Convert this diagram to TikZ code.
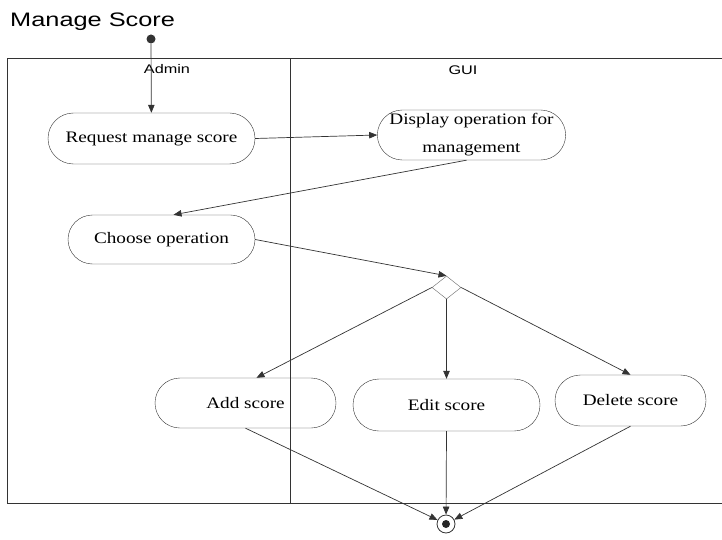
\documentclass[tikz,border=0pt]{standalone}
\usepackage{fontspec}
\setmainfont{Liberation Serif}[FakeStretch=1.2]
\newfontfamily\lanefont{Liberation Sans}[FakeStretch=1.3]
\usetikzlibrary{arrows.meta,shapes.misc,shapes.geometric}

\begin{document}
\begin{tikzpicture}[
  x=1pt, y=-1pt,
  activity/.style={draw=black!80, rounded rectangle, inner sep=0pt, font=\fontsize{16}{19}\selectfont, align=center},
  flow/.style={-{Triangle[length=8pt,width=6.5pt]}, draw=black!80, line width=.7pt},
  lane/.style={black!80, line width=.8pt},
  lanelabel/.style={font=\lanefont\fontsize{12.5}{14}\selectfont, anchor=base, inner sep=0pt},
  final/.style={circle, draw=black!80, line width=.8pt, minimum size=18pt, inner sep=0pt,
    path picture={\fill[black!85] (path picture bounding box.center) circle (4pt);}}
]
\useasboundingbox (0,0) rectangle (722,540);

\node[anchor=base west, inner sep=0pt, font=\lanefont\fontsize{19.5}{22}\selectfont] (title) at (10,27) {Manage Score};

% swimlanes
\draw[lane] (722,58.5) -- (7.5,58.5) -- (7.5,503) -- (722,503);
\draw[lane] (290,58.5) -- (290,503);
\node[lanelabel] (admin) at (167,74) {Admin};
\node[lanelabel] (gui) at (463,75) {GUI};

\node[circle, fill=black!80, minimum size=9pt, inner sep=0pt] (start) at (151,39) {};
\node[activity, minimum width=207pt, minimum height=51pt] (req) at (151.5,138.5) {Request manage score};
\node[activity, minimum width=187pt, minimum height=50pt] (disp) at (471.5,135) {Display operation for\\[9pt]management};
\node[activity, minimum width=187pt, minimum height=49pt] (choose) at (161.5,239.5) {Choose operation};
\node[diamond, draw=black!60, minimum width=29pt, minimum height=23pt, inner sep=0pt] (dec) at (446.5,287.5) {};
\node[activity, minimum width=181pt, minimum height=50pt] (add) at (245.5,403) {Add score};
\node[activity, minimum width=187pt, minimum height=52pt] (edit) at (446.5,405) {Edit score};
\node[activity, minimum width=151pt, minimum height=51pt] (del) at (630.5,400.5) {Delete score};
\node[final] (end) at (446,524) {};

\draw[flow] (start) -- (req);
\draw[flow] (req.east) -- (disp.west);
\draw[flow] ([xshift=-5pt]disp.south) -- ([xshift=12pt]choose.north);
\draw[flow] (choose.east) -- (dec.north);
\draw[flow] (dec.west) -- ([xshift=11pt]add.north);
\draw[flow] (dec.south) -- (edit.north);
\draw[flow] (dec.east) -- (del.north);
\draw[flow] (add.south) -- (end);
\draw[flow] (edit.south) -- (end);
\draw[flow] (del.south) -- (end);
\end{tikzpicture}
\end{document}
